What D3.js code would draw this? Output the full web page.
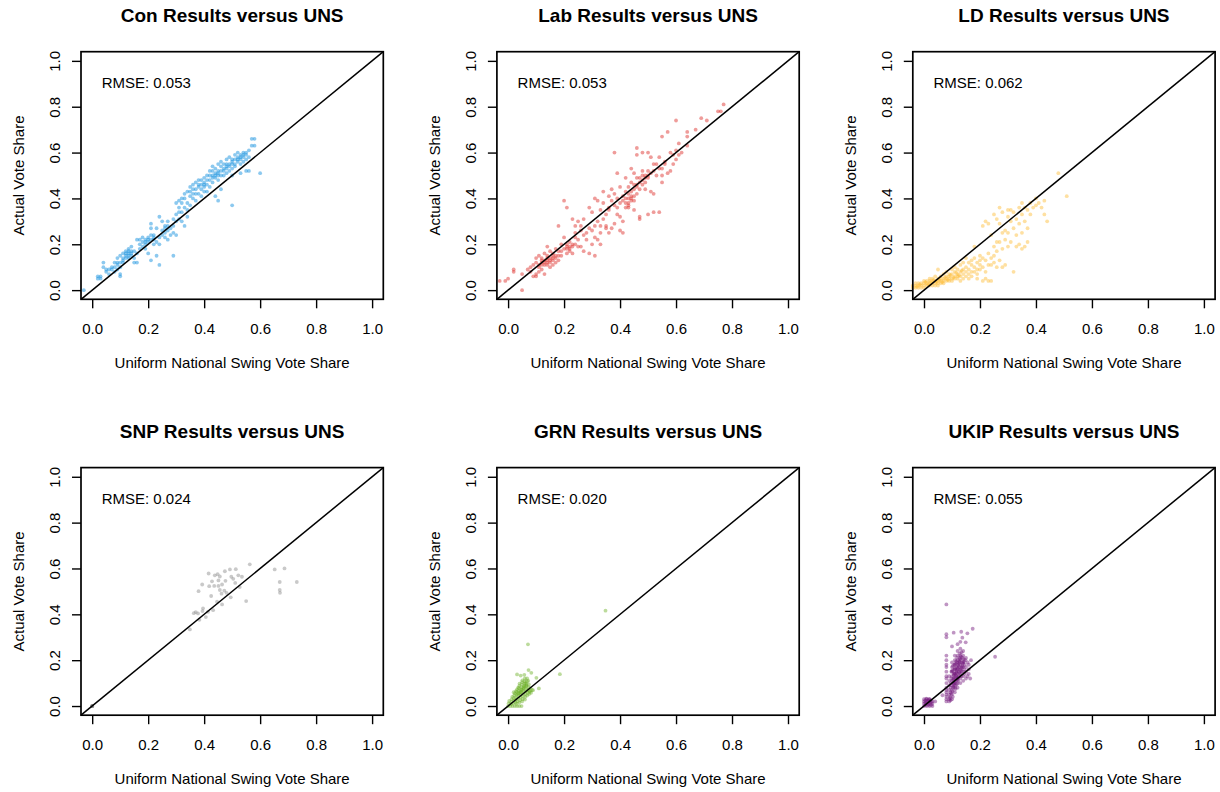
<!DOCTYPE html>
<html>
<head>
<meta charset="utf-8">
<script src="https://cdn.jsdelivr.net/npm/d3@7"></script>
<style>
  body { margin: 0; background: #fff; }
  svg { display: block; font-family: "Liberation Sans", Arial, Helvetica, sans-serif; }
</style>
</head>
<body>
<div id="chart"></div>
<script>
// -----------------------------
// DATA
// -----------------------------
const parties = ["Con", "Lab", "LD", "SNP", "GRN", "UKIP"];
const rmseLabels = ["0.053", "0.053", "0.062", "0.024", "0.020", "0.055"];
const partyColors = ["#0087DC", "#DC241F", "#FDBB30", "#888888", "#6AB023", "#70147A"];
const tickValues = [0, 0.2, 0.4, 0.6, 0.8, 1.0];

// [UNS vote share, actual vote share]
const conPoints = [[-0.03,0.00],[0.02,0.06],[0.02,0.05],[0.03,0.05],[0.03,0.06],[0.04,0.12],[0.04,0.10],[0.05,0.09],[0.05,0.08],[0.06,0.07],[0.06,0.09],[0.07,0.09],[0.07,0.10],[0.08,0.10],[0.08,0.12],[0.08,0.08],[0.09,0.12],[0.09,0.11],[0.09,0.14],[0.10,0.06],[0.10,0.07],[0.10,0.12],[0.10,0.15],[0.11,0.14],[0.11,0.16],[0.11,0.13],[0.12,0.15],[0.12,0.17],[0.12,0.16],[0.13,0.14],[0.13,0.16],[0.13,0.18],[0.13,0.17],[0.14,0.15],[0.14,0.17],[0.14,0.19],[0.15,0.14],[0.15,0.12],[0.15,0.17],[0.16,0.16],[0.16,0.12],[0.16,0.22],[0.17,0.20],[0.17,0.22],[0.17,0.18],[0.18,0.23],[0.18,0.19],[0.18,0.21],[0.19,0.20],[0.19,0.22],[0.19,0.18],[0.20,0.16],[0.20,0.23],[0.20,0.21],[0.21,0.29],[0.21,0.13],[0.21,0.22],[0.21,0.27],[0.22,0.20],[0.22,0.24],[0.22,0.22],[0.23,0.15],[0.23,0.27],[0.23,0.21],[0.24,0.11],[0.24,0.32],[0.24,0.20],[0.24,0.23],[0.25,0.30],[0.25,0.24],[0.25,0.26],[0.26,0.23],[0.26,0.28],[0.26,0.25],[0.27,0.26],[0.27,0.22],[0.27,0.30],[0.28,0.27],[0.28,0.24],[0.29,0.15],[0.29,0.28],[0.29,0.31],[0.29,0.25],[0.30,0.30],[0.30,0.38],[0.30,0.24],[0.30,0.33],[0.31,0.36],[0.31,0.39],[0.31,0.31],[0.32,0.30],[0.32,0.40],[0.32,0.34],[0.33,0.42],[0.33,0.36],[0.33,0.28],[0.34,0.35],[0.34,0.43],[0.34,0.38],[0.34,0.32],[0.35,0.41],[0.35,0.37],[0.35,0.45],[0.36,0.42],[0.36,0.40],[0.36,0.46],[0.37,0.44],[0.37,0.39],[0.37,0.47],[0.38,0.45],[0.38,0.42],[0.38,0.48],[0.39,0.44],[0.39,0.46],[0.39,0.41],[0.40,0.43],[0.40,0.45],[0.40,0.49],[0.40,0.47],[0.41,0.46],[0.41,0.50],[0.41,0.43],[0.42,0.52],[0.42,0.48],[0.42,0.45],[0.43,0.54],[0.43,0.50],[0.43,0.47],[0.44,0.49],[0.44,0.51],[0.44,0.41],[0.44,0.53],[0.45,0.39],[0.45,0.50],[0.45,0.55],[0.45,0.48],[0.46,0.52],[0.46,0.44],[0.46,0.56],[0.47,0.53],[0.47,0.50],[0.47,0.55],[0.48,0.54],[0.48,0.51],[0.48,0.57],[0.49,0.55],[0.49,0.52],[0.49,0.58],[0.50,0.37],[0.50,0.56],[0.50,0.53],[0.50,0.50],[0.51,0.57],[0.51,0.54],[0.51,0.59],[0.52,0.56],[0.52,0.58],[0.52,0.60],[0.53,0.57],[0.53,0.51],[0.53,0.59],[0.54,0.60],[0.54,0.56],[0.54,0.58],[0.55,0.52],[0.55,0.60],[0.55,0.57],[0.56,0.61],[0.56,0.52],[0.56,0.58],[0.57,0.63],[0.57,0.66],[0.58,0.66],[0.58,0.63],[0.60,0.51],[0.36,0.44],[0.37,0.42],[0.38,0.46],[0.39,0.48],[0.40,0.46],[0.41,0.48],[0.42,0.50],[0.43,0.49],[0.43,0.52],[0.44,0.50],[0.45,0.52],[0.45,0.51],[0.46,0.50],[0.46,0.54],[0.47,0.52],[0.48,0.53],[0.48,0.55],[0.49,0.54],[0.50,0.55],[0.50,0.57],[0.51,0.55],[0.52,0.57],[0.53,0.58],[0.53,0.55],[0.54,0.59],[0.55,0.59],[0.35,0.43],[0.33,0.40],[0.32,0.38],[0.31,0.34],[0.12,0.14],[0.13,0.15],[0.11,0.12],[0.14,0.16],[0.10,0.10],[0.09,0.09],[0.19,0.21],[0.20,0.22],[0.21,0.24],[0.22,0.23],[0.26,0.27],[0.27,0.28]];

const labPoints = [[-0.03,0.04],[-0.01,0.04],[0.00,0.05],[0.02,0.09],[0.02,0.08],[0.05,0.00],[0.05,0.07],[0.07,0.09],[0.08,0.08],[0.08,0.10],[0.09,0.06],[0.09,0.11],[0.10,0.07],[0.10,0.12],[0.10,0.06],[0.10,0.14],[0.11,0.08],[0.11,0.10],[0.11,0.15],[0.12,0.09],[0.12,0.13],[0.12,0.12],[0.13,0.07],[0.13,0.16],[0.13,0.12],[0.13,0.11],[0.14,0.11],[0.14,0.15],[0.14,0.19],[0.14,0.13],[0.15,0.10],[0.15,0.14],[0.15,0.17],[0.15,0.12],[0.16,0.13],[0.16,0.16],[0.16,0.11],[0.16,0.15],[0.17,0.18],[0.17,0.14],[0.17,0.12],[0.18,0.15],[0.18,0.17],[0.18,0.13],[0.18,0.28],[0.19,0.17],[0.19,0.20],[0.19,0.15],[0.20,0.39],[0.20,0.23],[0.20,0.18],[0.21,0.36],[0.21,0.20],[0.21,0.18],[0.21,0.16],[0.22,0.19],[0.22,0.17],[0.22,0.21],[0.23,0.31],[0.23,0.19],[0.23,0.16],[0.24,0.28],[0.24,0.23],[0.24,0.20],[0.24,0.25],[0.25,0.30],[0.25,0.22],[0.25,0.19],[0.26,0.26],[0.26,0.28],[0.26,0.19],[0.27,0.31],[0.27,0.17],[0.27,0.24],[0.28,0.25],[0.28,0.22],[0.29,0.16],[0.29,0.36],[0.29,0.27],[0.30,0.26],[0.30,0.34],[0.30,0.20],[0.31,0.40],[0.31,0.23],[0.31,0.15],[0.31,0.28],[0.32,0.39],[0.32,0.22],[0.32,0.30],[0.33,0.28],[0.33,0.35],[0.33,0.20],[0.33,0.25],[0.34,0.43],[0.34,0.31],[0.34,0.38],[0.35,0.28],[0.35,0.33],[0.35,0.27],[0.36,0.41],[0.36,0.36],[0.36,0.35],[0.36,0.25],[0.37,0.39],[0.37,0.27],[0.37,0.44],[0.38,0.60],[0.38,0.37],[0.38,0.29],[0.38,0.42],[0.39,0.33],[0.39,0.40],[0.39,0.51],[0.39,0.36],[0.40,0.32],[0.40,0.45],[0.40,0.38],[0.40,0.26],[0.41,0.30],[0.41,0.41],[0.41,0.25],[0.41,0.39],[0.42,0.36],[0.42,0.49],[0.42,0.43],[0.43,0.38],[0.43,0.45],[0.43,0.36],[0.43,0.40],[0.44,0.53],[0.44,0.41],[0.44,0.47],[0.44,0.39],[0.45,0.51],[0.46,0.62],[0.45,0.44],[0.45,0.35],[0.45,0.39],[0.46,0.49],[0.46,0.42],[0.46,0.59],[0.46,0.45],[0.47,0.32],[0.47,0.47],[0.47,0.31],[0.47,0.44],[0.48,0.60],[0.48,0.48],[0.48,0.52],[0.48,0.46],[0.49,0.44],[0.49,0.50],[0.49,0.47],[0.50,0.33],[0.50,0.52],[0.50,0.60],[0.50,0.49],[0.51,0.51],[0.51,0.43],[0.51,0.58],[0.52,0.34],[0.52,0.52],[0.52,0.42],[0.52,0.55],[0.53,0.50],[0.53,0.55],[0.54,0.34],[0.54,0.53],[0.54,0.58],[0.55,0.50],[0.55,0.53],[0.55,0.67],[0.55,0.47],[0.56,0.56],[0.56,0.55],[0.57,0.69],[0.57,0.51],[0.58,0.60],[0.58,0.52],[0.59,0.59],[0.59,0.55],[0.60,0.61],[0.60,0.74],[0.60,0.57],[0.61,0.64],[0.61,0.59],[0.62,0.60],[0.64,0.69],[0.64,0.67],[0.64,0.63],[0.67,0.70],[0.69,0.75],[0.71,0.74],[0.75,0.78],[0.76,0.78],[0.77,0.81],[0.12,0.11],[0.13,0.13],[0.14,0.12],[0.15,0.13],[0.16,0.14],[0.17,0.15],[0.12,0.14],[0.11,0.11],[0.14,0.14],[0.22,0.18],[0.21,0.19],[0.23,0.20],[0.42,0.40],[0.43,0.42],[0.44,0.43],[0.44,0.40],[0.45,0.41],[0.46,0.46],[0.47,0.49],[0.48,0.50],[0.49,0.49],[0.50,0.50],[0.45,0.46],[0.43,0.37],[0.42,0.38]];

const ldPoints = [[-0.04,0.02],[-0.04,0.01],[-0.03,0.02],[-0.03,0.01],[-0.03,0.03],[-0.02,0.02],[-0.02,0.01],[-0.02,0.03],[-0.01,0.02],[-0.01,0.03],[-0.01,0.01],[0.00,0.02],[0.00,0.03],[0.00,0.04],[0.00,0.01],[0.01,0.02],[0.01,0.03],[0.01,0.04],[0.015,0.025],[0.02,0.03],[0.02,0.04],[0.02,0.02],[0.02,0.05],[0.03,0.03],[0.03,0.04],[0.03,0.02],[0.03,0.05],[0.04,0.03],[0.04,0.04],[0.04,0.06],[0.04,0.02],[0.05,0.04],[0.05,0.03],[0.05,0.05],[0.05,0.09],[0.05,0.02],[0.06,0.04],[0.06,0.05],[0.06,0.03],[0.06,0.06],[0.07,0.04],[0.07,0.05],[0.07,0.03],[0.07,0.07],[0.08,0.05],[0.08,0.04],[0.08,0.06],[0.08,0.08],[0.09,0.05],[0.09,0.06],[0.09,0.04],[0.09,0.07],[0.10,0.05],[0.10,0.07],[0.10,0.09],[0.10,0.04],[0.11,0.06],[0.11,0.08],[0.11,0.05],[0.11,0.10],[0.12,0.07],[0.12,0.05],[0.12,0.09],[0.12,0.06],[0.13,0.08],[0.13,0.06],[0.13,0.11],[0.13,0.04],[0.14,0.07],[0.14,0.09],[0.14,0.12],[0.14,0.05],[0.15,0.08],[0.15,0.06],[0.15,0.10],[0.15,0.14],[-0.025,0.015],[-0.015,0.025],[0.005,0.035],[0.025,0.035],[0.035,0.045],[0.045,0.035],[0.055,0.045],[0.065,0.035],[0.075,0.055],[0.085,0.045],[0.095,0.065],[0.105,0.055],[0.115,0.075],[0.125,0.065],[0.135,0.085],[0.16,0.09],[0.16,0.07],[0.16,0.12],[0.16,0.05],[0.17,0.13],[0.17,0.08],[0.17,0.11],[0.17,0.06],[0.18,0.10],[0.18,0.19],[0.18,0.08],[0.18,0.14],[0.19,0.12],[0.19,0.09],[0.19,0.05],[0.19,0.07],[0.20,0.09],[0.20,0.13],[0.20,0.11],[0.20,0.15],[0.21,0.14],[0.21,0.28],[0.21,0.04],[0.21,0.10],[0.22,0.30],[0.22,0.13],[0.22,0.08],[0.22,0.05],[0.23,0.29],[0.23,0.11],[0.23,0.16],[0.23,0.04],[0.24,0.24],[0.24,0.11],[0.24,0.14],[0.24,0.04],[0.25,0.33],[0.25,0.12],[0.25,0.15],[0.25,0.19],[0.26,0.31],[0.26,0.21],[0.26,0.10],[0.26,0.17],[0.27,0.36],[0.27,0.29],[0.27,0.21],[0.27,0.13],[0.28,0.34],[0.28,0.18],[0.28,0.25],[0.28,0.10],[0.29,0.26],[0.29,0.22],[0.29,0.11],[0.30,0.32],[0.30,0.35],[0.30,0.25],[0.30,0.19],[0.31,0.30],[0.31,0.21],[0.31,0.35],[0.32,0.08],[0.32,0.27],[0.32,0.34],[0.33,0.24],[0.33,0.19],[0.33,0.31],[0.34,0.36],[0.34,0.29],[0.34,0.20],[0.35,0.38],[0.35,0.33],[0.35,0.25],[0.35,0.18],[0.36,0.36],[0.36,0.30],[0.36,0.19],[0.37,0.35],[0.37,0.27],[0.37,0.21],[0.38,0.38],[0.38,0.33],[0.39,0.36],[0.40,0.37],[0.40,0.40],[0.41,0.38],[0.42,0.36],[0.43,0.39],[0.43,0.33],[0.44,0.30],[0.48,0.51],[0.51,0.41]];

const snpPoints = [[0,0],[0,0],[0,0],[0,0],[0,0],[0,0],[0.563,0.618],[0.513,0.597],[0.492,0.596],[0.474,0.588],[0.416,0.578],[0.438,0.570],[0.456,0.565],[0.497,0.564],[0.522,0.570],[0.535,0.564],[0.428,0.544],[0.451,0.548],[0.476,0.546],[0.504,0.555],[0.393,0.530],[0.418,0.523],[0.436,0.524],[0.451,0.524],[0.464,0.530],[0.511,0.537],[0.527,0.519],[0.380,0.501],[0.456,0.506],[0.472,0.503],[0.462,0.490],[0.480,0.494],[0.425,0.480],[0.495,0.474],[0.446,0.455],[0.464,0.443],[0.550,0.458],[0.370,0.410],[0.363,0.405],[0.378,0.404],[0.394,0.414],[0.396,0.426],[0.414,0.411],[0.432,0.418],[0.406,0.388],[0.383,0.376],[0.349,0.334],[0.652,0.596],[0.687,0.600],[0.670,0.541],[0.731,0.541],[0.670,0.506],[0.671,0.494],[0.448,0.575]];

const grnPoints = [[0.348,0.416],[0.185,0.139],[0.071,0.269],[0.073,0.157],[0.083,0.145],[0.032,0.138],[0.045,0.133],[0.058,0.136],[0.101,0.123],[0.110,0.077],[0.089,0.069],[0.077,0.062],[0.000,0.000],[0.008,0.000],[0.016,0.000],[0.024,0.000],[0.032,0.000],[0.040,0.000],[0.048,0.000],[0.002,0.012],[0.004,0.022],[0.010,0.008],[0.012,0.018],[0.013,0.030],[0.015,0.040],[0.018,0.012],[0.020,0.024],[0.021,0.034],[0.022,0.046],[0.024,0.055],[0.026,0.015],[0.027,0.027],[0.028,0.038],[0.030,0.050],[0.031,0.062],[0.032,0.072],[0.034,0.020],[0.035,0.032],[0.036,0.044],[0.037,0.056],[0.038,0.066],[0.039,0.078],[0.040,0.088],[0.041,0.098],[0.043,0.026],[0.044,0.038],[0.045,0.050],[0.046,0.060],[0.047,0.072],[0.048,0.082],[0.049,0.094],[0.050,0.104],[0.051,0.112],[0.052,0.030],[0.053,0.042],[0.054,0.054],[0.055,0.066],[0.056,0.076],[0.057,0.088],[0.058,0.098],[0.059,0.108],[0.060,0.120],[0.061,0.040],[0.062,0.052],[0.063,0.064],[0.064,0.074],[0.065,0.086],[0.066,0.096],[0.067,0.108],[0.068,0.046],[0.070,0.058],[0.071,0.070],[0.072,0.082],[0.074,0.094],[0.075,0.052],[0.078,0.066],[0.080,0.078],[0.082,0.058],[0.085,0.070],[0.030,0.010],[0.040,0.015],[0.050,0.020],[0.060,0.028],[0.045,0.065],[0.055,0.080],[0.065,0.090],[0.035,0.052],[0.042,0.058],[0.050,0.070],[0.058,0.084],[0.062,0.100],[0.068,0.120],[0.072,0.110],[0.020,0.060],[0.028,0.065],[0.036,0.080]];

const ukipPoints = [[0.080,0.443],[0.080,0.313],[0.080,0.300],[0.106,0.320],[0.133,0.324],[0.155,0.317],[0.174,0.337],[0.137,0.298],[0.149,0.278],[0.254,0.215],[0.066,0.047],[0.040,0.020],[0.000,0.000],[0.000,0.010],[0.000,0.020],[0.000,0.030],[0.010,0.000],[0.010,0.010],[0.010,0.020],[0.010,0.030],[0.020,0.000],[0.020,0.010],[0.020,0.020],[0.020,0.030],[0.030,0.000],[0.030,0.010],[0.030,0.020],[0.005,0.005],[0.005,0.015],[0.005,0.025],[0.015,0.005],[0.015,0.015],[0.015,0.025],[0.025,0.005],[0.025,0.015],[0.025,0.025],[0.008,0.032],[0.018,0.030],[0.080,0.020],[0.080,0.030],[0.080,0.040],[0.080,0.050],[0.080,0.060],[0.080,0.070],[0.080,0.080],[0.080,0.100],[0.080,0.120],[0.080,0.130],[0.080,0.150],[0.080,0.170],[0.080,0.180],[0.080,0.200],[0.080,0.220],[0.090,0.020],[0.095,0.025],[0.090,0.030],[0.090,0.050],[0.090,0.070],[0.090,0.090],[0.090,0.110],[0.090,0.130],[0.092,0.040],[0.094,0.060],[0.095,0.080],[0.096,0.100],[0.098,0.120],[0.098,0.150],[0.100,0.030],[0.100,0.050],[0.100,0.070],[0.100,0.090],[0.100,0.110],[0.100,0.130],[0.100,0.150],[0.100,0.170],[0.100,0.190],[0.103,0.040],[0.104,0.080],[0.105,0.100],[0.106,0.120],[0.107,0.140],[0.108,0.160],[0.108,0.180],[0.110,0.060],[0.110,0.080],[0.110,0.100],[0.110,0.120],[0.110,0.140],[0.110,0.160],[0.110,0.180],[0.110,0.200],[0.110,0.220],[0.112,0.090],[0.114,0.110],[0.115,0.130],[0.116,0.150],[0.117,0.170],[0.118,0.190],[0.118,0.210],[0.120,0.080],[0.120,0.100],[0.120,0.120],[0.120,0.140],[0.120,0.160],[0.120,0.180],[0.120,0.200],[0.120,0.220],[0.120,0.240],[0.122,0.110],[0.124,0.130],[0.125,0.150],[0.126,0.170],[0.127,0.190],[0.128,0.210],[0.128,0.230],[0.130,0.100],[0.130,0.120],[0.130,0.140],[0.130,0.160],[0.130,0.180],[0.130,0.200],[0.130,0.220],[0.130,0.250],[0.133,0.130],[0.135,0.150],[0.136,0.170],[0.137,0.190],[0.138,0.210],[0.140,0.110],[0.140,0.130],[0.140,0.150],[0.140,0.170],[0.140,0.190],[0.140,0.220],[0.140,0.240],[0.145,0.140],[0.146,0.180],[0.148,0.200],[0.150,0.120],[0.150,0.150],[0.150,0.170],[0.150,0.210],[0.155,0.130],[0.156,0.190],[0.160,0.140],[0.160,0.160],[0.160,0.180],[0.165,0.120],[0.168,0.200],[0.100,0.260],[0.120,0.270],[0.130,0.280],[0.093,0.035],[0.097,0.055],[0.102,0.065],[0.105,0.085],[0.107,0.095],[0.109,0.105],[0.112,0.125],[0.114,0.135],[0.116,0.145],[0.118,0.155],[0.121,0.165],[0.123,0.175],[0.125,0.185],[0.127,0.195],[0.129,0.205],[0.132,0.215],[0.134,0.235],[0.113,0.075],[0.117,0.095],[0.119,0.115],[0.123,0.125],[0.127,0.145],[0.131,0.155],[0.134,0.165],[0.137,0.175],[0.139,0.185],[0.143,0.195],[0.104,0.115],[0.106,0.135],[0.108,0.145],[0.111,0.165],[0.113,0.185],[0.115,0.195],[0.101,0.155],[0.103,0.175],[0.142,0.205],[0.144,0.160]];

const partyPoints = [conPoints, labPoints, ldPoints, snpPoints, grnPoints, ukipPoints];

// -----------------------------
// LAYOUT
// -----------------------------
const width = 1220, height = 792;
const cellSize = 415.9;          // panels repeat every ~416px in both directions
const margin = { left: 81, top: 51.7 };
const plotW = 302.3, plotH = 247.6;

const svg = d3.select("#chart").append("svg")
    .attr("width", width)
    .attr("height", height);

parties.forEach((party, i) => {
    const col = i % 3, row = Math.floor(i / 3);

    const g = svg.append("g")
        .attr("transform", `translate(${margin.left + col * cellSize},${margin.top + row * cellSize})`);

    // R style axes: data range [0,1] padded by 4%
    const x = d3.scaleLinear().domain([-0.04, 1.04]).range([0, plotW]);
    const y = d3.scaleLinear().domain([-0.04, 1.04]).range([plotH, 0]);

    // points
    g.append("g")
        .selectAll("circle")
        .data(partyPoints[i])
        .join("circle")
        .attr("cx", d => x(d[0]))
        .attr("cy", d => y(d[1]))
        .attr("r", 1.9)
        .attr("fill", partyColors[i])
        .attr("fill-opacity", 0.45);

    // 45 degree reference line
    g.append("line")
        .attr("x1", x(-0.04)).attr("y1", y(-0.04))
        .attr("x2", x(1.04)).attr("y2", y(1.04))
        .attr("stroke", "#000")
        .attr("stroke-width", 1.5);

    // box
    g.append("rect")
        .attr("width", plotW)
        .attr("height", plotH)
        .attr("fill", "none")
        .attr("stroke", "#000")
        .attr("stroke-width", 1.7);

    // x axis
    const xAxis = g.append("g")
        .attr("transform", `translate(0,${plotH})`)
        .call(d3.axisBottom(x).tickValues(tickValues).tickFormat(d3.format(".1f")).tickSize(9).tickSizeOuter(0));
    xAxis.select(".domain").remove();
    xAxis.selectAll(".tick line").attr("stroke-width", 1.4);
    xAxis.selectAll(".tick text")
        .attr("y", 35).attr("dy", null)
        .attr("font-size", 15).attr("fill", "#000");

    // y axis, labels parallel to the axis
    const yAxis = g.append("g")
        .call(d3.axisLeft(y).tickValues(tickValues).tickFormat(d3.format(".1f")).tickSize(9).tickSizeOuter(0));
    yAxis.select(".domain").remove();
    yAxis.selectAll(".tick line").attr("stroke-width", 1.4);
    yAxis.selectAll(".tick text")
        .attr("transform", "rotate(-90)")
        .attr("x", 0).attr("y", -21).attr("dy", null)
        .attr("text-anchor", "middle")
        .attr("font-size", 15).attr("fill", "#000");

    // titles and labels
    g.append("text")
        .attr("x", plotW / 2)
        .attr("y", -30)
        .attr("text-anchor", "middle")
        .attr("font-size", 19)
        .attr("font-weight", "bold")
        .text(`${party} Results versus UNS`);

    g.append("text")
        .attr("x", plotW / 2)
        .attr("y", plotH + 68.7)
        .attr("text-anchor", "middle")
        .attr("font-size", 15)
        .text("Uniform National Swing Vote Share");

    g.append("text")
        .attr("transform", `translate(-57,${plotH / 2}) rotate(-90)`)
        .attr("text-anchor", "middle")
        .attr("font-size", 15)
        .text("Actual Vote Share");

    g.append("text")
        .attr("x", x(0) + 9.5)
        .attr("y", y(0.9) + 4.3)
        .attr("font-size", 15)
        .text(`RMSE: ${rmseLabels[i]}`);
});
</script>
</body>
</html>
